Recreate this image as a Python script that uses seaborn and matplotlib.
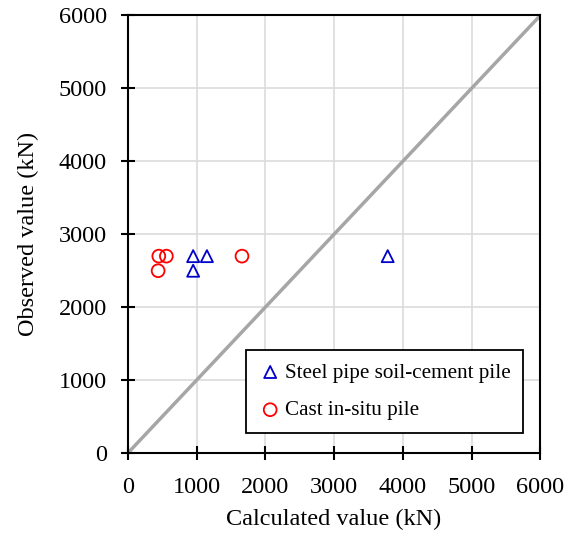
import matplotlib
matplotlib.use('Agg')
import matplotlib.pyplot as plt
import seaborn as sns
import pandas as pd

# 数据
steel_x = [950, 1150, 950, 3780]
steel_y = [2700, 2700, 2500, 2700]
cast_x = [450, 560, 440, 1660]
cast_y = [2700, 2700, 2500, 2700]
line_xy = [0, 6000]

ticks = [0, 1000, 2000, 3000, 4000, 5000, 6000]

sns.set_theme(style='white')
plt.rcParams['font.family'] = ['Liberation Serif', 'DejaVu Serif']
plt.rcParams['text.color'] = 'black'

df = pd.DataFrame({'x': line_xy, 'y': line_xy})

fig, ax = plt.subplots(figsize=(5.76, 5.33), dpi=100)
fig.subplots_adjust(left=0.222, right=0.938, top=0.971, bottom=0.15)

# 1:1 参考线
sns.lineplot(data=df, x='x', y='y', color='#a6a6a6', lw=2.5, zorder=2, ax=ax)

# 空心标记
ax.scatter(steel_x, steel_y, marker='^', s=75, facecolors='none', edgecolors='#0000cc',
           linewidths=1.3, zorder=3, label='Steel pipe soil-cement pile')
ax.scatter(cast_x, cast_y, marker='o', s=85, facecolors='none', edgecolors='#ff0000',
           linewidths=1.3, zorder=3, label='Cast in-situ pile')

ax.set_xlim(0, 6000)
ax.set_ylim(0, 6000)
ax.set_xticks(ticks)
ax.set_yticks(ticks)
ax.grid(True, color='#dcdcdc', lw=1.2, zorder=0)
ax.set_axisbelow(True)
for sp in ax.spines.values():
    sp.set_color('black')
    sp.set_linewidth(1.5)
ax.tick_params(axis='both', which='major', bottom=True, left=True, direction='inout',
               length=10, width=1.5, color='black', labelsize=17.5, labelcolor='black')
ax.tick_params(axis='x', pad=12)
ax.tick_params(axis='y', pad=10)
ax.set_xlabel('Calculated value (kN)', fontsize=17.5, color='black', labelpad=8)
ax.set_ylabel('Observed value (kN)', fontsize=17.5, color='black', labelpad=14)

leg = ax.legend(loc='lower right', bbox_to_anchor=(0.959, 0.046), borderaxespad=0,
                fontsize=15.2, frameon=True, fancybox=False, edgecolor='black',
                framealpha=1, handletextpad=0.15, borderpad=0.6, labelspacing=0.85,
                handlelength=1.1, labelcolor='black')
leg.get_frame().set_linewidth(1.3)

plt.savefig('out.png', dpi=100)
